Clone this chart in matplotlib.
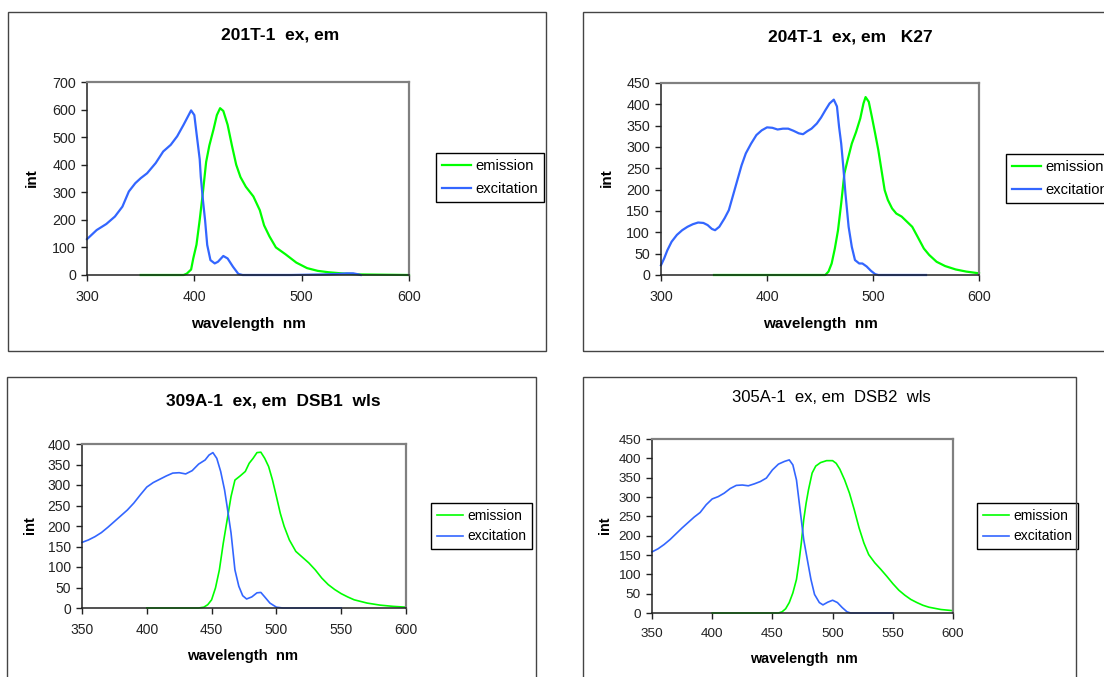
import matplotlib
matplotlib.use("Agg")
import matplotlib.pyplot as plt
from matplotlib.patches import Rectangle

plt.rcParams['font.family'] = ['Liberation Sans', 'DejaVu Sans']

W, H = 1104, 677

# ---- 201T-1 ----
ex1_nm = [300, 309, 318, 326, 333, 339, 345, 350, 356, 364, 371, 378, 384, 390, 397,
          400, 402, 405, 406, 408, 410, 412, 415, 419, 422, 427, 431, 436, 441, 445,
          490, 520, 535, 542, 548, 552, 555]
ex1_int = [130, 163, 185, 212, 248, 303, 333, 351, 369, 406, 448, 472, 503, 545, 597,
           580, 515, 420, 357, 272, 199, 109, 54, 42, 48, 69, 60, 30, 4, 0,
           0, 2, 4, 6, 6, 3, 0]
em1_nm = [350, 390, 393, 397, 399, 402, 405, 408, 411, 414, 418, 421, 424, 427, 431,
          435, 439, 443, 448, 455, 461, 465, 470, 476, 485, 495, 505, 515, 525, 540,
          555, 600]
em1_int = [0, 0, 5, 20, 60, 110, 200, 300, 410, 470, 530, 580, 605, 595, 545,
           470, 400, 355, 320, 285, 235, 180, 140, 100, 75, 45, 25, 15, 10, 5,
           2, 0]

# ---- 204T-1 ----
ex2_nm = [300, 303, 306, 310, 315, 320, 325, 330, 335, 340, 344, 348, 351, 355, 360,
          364, 368, 372, 376, 380, 385, 390, 395, 400, 405, 410, 415, 420, 425, 430,
          434, 438, 442, 447, 451, 455, 459, 463, 466, 468, 470, 472, 474, 477, 480,
          483, 487, 490, 494, 498, 502, 505, 550]
ex2_int = [23, 39, 58, 78, 94, 105, 113, 119, 123, 122, 117, 108, 105, 113, 133,
           152, 187, 222, 257, 285, 308, 328, 339, 346, 345, 341, 343, 343, 338, 332,
           330, 337, 343, 355, 369, 386, 402, 411, 395, 347, 308, 253, 191, 113, 66,
           35, 27, 27, 20, 10, 2, 0, 0]
em2_nm = [350, 455, 458, 461, 464, 467, 470, 473, 476, 480, 484, 488, 491, 493, 496,
          499, 502, 505, 508, 511, 514, 518, 522, 527, 532, 537, 542, 548, 553, 560,
          568, 578, 588, 600]
em2_int = [0, 0, 8, 27, 62, 105, 168, 238, 269, 308, 335, 367, 402, 417, 406,
           370, 332, 293, 246, 199, 176, 156, 144, 137, 125, 113, 90, 62, 47, 31,
           21, 13, 8, 4]

# ---- 309A-1 ----
ex3_nm = [350, 355, 360, 365, 370, 375, 380, 385, 390, 395, 400, 405, 410, 415, 420,
          425, 430, 435, 440, 445, 448, 451, 454, 457, 460, 462, 465, 468, 471, 474,
          477, 481, 485, 488, 491, 495, 500, 505, 550]
ex3_int = [160, 166, 174, 184, 197, 211, 225, 239, 256, 276, 295, 306, 314, 322, 329,
           330, 327, 335, 351, 361, 373, 379, 365, 333, 288, 247, 183, 93, 53, 30,
           22, 27, 37, 38, 27, 12, 2, 0, 0]
em3_nm = [400, 440, 444, 447, 450, 453, 456, 459, 462, 465, 468, 472, 476, 479, 482,
          485, 488, 491, 494, 497, 500, 503, 506, 510, 515, 520, 525, 530, 535, 540,
          545, 550, 555, 560, 570, 580, 590, 600]
em3_int = [0, 0, 2, 8, 20, 49, 93, 158, 215, 272, 312, 322, 333, 353, 365,
           379, 380, 365, 345, 312, 272, 231, 199, 166, 138, 124, 110, 93, 73, 57,
           45, 35, 27, 20, 12, 7, 4, 2]

# ---- 305A-1 ----
ex4_nm = [350, 355, 360, 365, 370, 375, 380, 385, 390, 395, 400, 405, 410, 415, 420,
          425, 430, 435, 440, 445, 450, 455, 460, 464, 467, 470, 473, 476, 479, 482,
          485, 489, 492, 496, 500, 504, 508, 512, 515, 550]
ex4_int = [158, 166, 177, 190, 205, 220, 234, 248, 260, 280, 295, 301, 310, 322, 330,
           331, 329, 334, 340, 349, 370, 385, 392, 396, 383, 344, 267, 190, 138, 87,
           48, 27, 21, 28, 33, 27, 14, 3, 0, 0]
em4_nm = [400, 455, 458, 461, 464, 467, 470, 472, 474, 476, 478, 480, 483, 486, 490,
          495, 500, 503, 506, 510, 514, 518, 522, 526, 530, 535, 540, 545, 550, 555,
          560, 565, 570, 575, 580, 590, 600]
em4_int = [0, 0, 3, 11, 27, 52, 87, 130, 181, 241, 284, 319, 362, 380, 389,
           394, 394, 387, 372, 344, 310, 267, 220, 181, 151, 130, 113, 95, 76, 59,
           46, 35, 27, 20, 15, 9, 6]

titles = ["201T-1  ex, em", "204T-1  ex, em   K27",
          "309A-1  ex, em  DSB1  wls", "305A-1  ex, em  DSB2  wls"]

GREEN = '#00ff00'
BLUE = '#3366ff'

fig = plt.figure(figsize=(W / 100, H / 100), dpi=100)


def fx(x):
    return x / W


def fy(y):
    return 1 - y / H


def chart_box(l, t, r, b):
    fig.patches.append(Rectangle((fx(l), fy(b)), fx(r - l), (b - t) / H,
                                 transform=fig.transFigure, fill=False,
                                 edgecolor='#444444', linewidth=1.0))


def make_chart(plot_px, xlim, xstep, ylim, ystep, em, ex, lw, fs,
               title, title_xy, title_bold, xlab_xy, ylab_xy, leg_xy, leg_opts):
    l, t, r, b = plot_px
    ax = fig.add_axes([fx(l), fy(b), fx(r - l), (b - t) / H])
    ax.plot(em[0], em[1], color=GREEN, lw=lw, label='emission', clip_on=False)
    ax.plot(ex[0], ex[1], color=BLUE, lw=lw, label='excitation', clip_on=False)
    ax.set_xlim(*xlim)
    ax.set_ylim(*ylim)
    ax.set_xticks(range(xlim[0], xlim[1] + 1, xstep))
    ax.set_yticks(range(ylim[0], ylim[1] + 1, ystep))
    for side in ['top', 'right']:
        ax.spines[side].set_color('#808080')
        ax.spines[side].set_linewidth(1.6)
    for side in ['left', 'bottom']:
        ax.spines[side].set_color('#222222')
        ax.spines[side].set_linewidth(1.1)
    ax.tick_params(direction='out', length=4, width=1, labelsize=fs,
                   colors='#222222')
    ax.tick_params(axis='x', pad=7)
    ax.tick_params(axis='y', pad=4)

    fig.text(fx(title_xy[0]), fy(title_xy[1]), title, ha='center', va='baseline',
             fontsize=12.5 if title_bold else 12, fontweight='bold' if title_bold else 'normal')
    fig.text(fx(xlab_xy[0]), fy(xlab_xy[1]), 'wavelength  nm', ha='center',
             va='baseline', fontsize=fs + 0.7, fontweight='bold')
    fig.text(fx(ylab_xy[0]), fy(ylab_xy[1]), 'int', ha='center', va='center',
             rotation=90, fontsize=fs + 0.7, fontweight='bold')

    leg = ax.legend(loc='upper left', bbox_to_anchor=(fx(leg_xy[0]), fy(leg_xy[1])),
                    bbox_transform=fig.transFigure, borderaxespad=0,
                    fancybox=False, shadow=False, framealpha=1, **leg_opts)
    leg.get_frame().set_edgecolor('black')
    leg.get_frame().set_linewidth(1.0)
    return ax


chart_box(8, 12, 546, 351)
chart_box(583, 12, 1112, 351)
chart_box(7, 377, 536, 690)
chart_box(583, 377, 1076, 690)

leg_big = dict(fontsize=10.6, handlelength=2.0, handletextpad=0.3,
               borderpad=0.4, labelspacing=0.6)
leg_small = dict(fontsize=10.0, handlelength=1.9, handletextpad=0.35,
                 borderpad=0.4, labelspacing=0.5)

make_chart((87, 82, 409, 275), (300, 600), 100, (0, 700), 100,
           (em1_nm, em1_int), (ex1_nm, ex1_int), 1.6, 10.3,
           titles[0], (280, 40), True, (248, 328), (32, 178), (436, 153), leg_big)

make_chart((661, 83, 979, 275), (300, 600), 100, (0, 450), 50,
           (em2_nm, em2_int), (ex2_nm, ex2_int), 1.6, 10.3,
           titles[1], (850, 41), True, (820, 328), (607, 178), (1006, 154), leg_big)

make_chart((82, 444, 406, 608), (350, 600), 50, (0, 400), 50,
           (em3_nm, em3_int), (ex3_nm, ex3_int), 1.2, 10.0,
           titles[2], (273, 405), True, (243, 660), (30, 525), (431, 503), leg_small)

make_chart((652, 439, 953, 613), (350, 600), 50, (0, 450), 50,
           (em4_nm, em4_int), (ex4_nm, ex4_int), 1.2, 9.7,
           titles[3], (831, 402), False, (804, 663), (605, 525), (977, 503), leg_small)

fig.savefig('out.png', dpi=100)
